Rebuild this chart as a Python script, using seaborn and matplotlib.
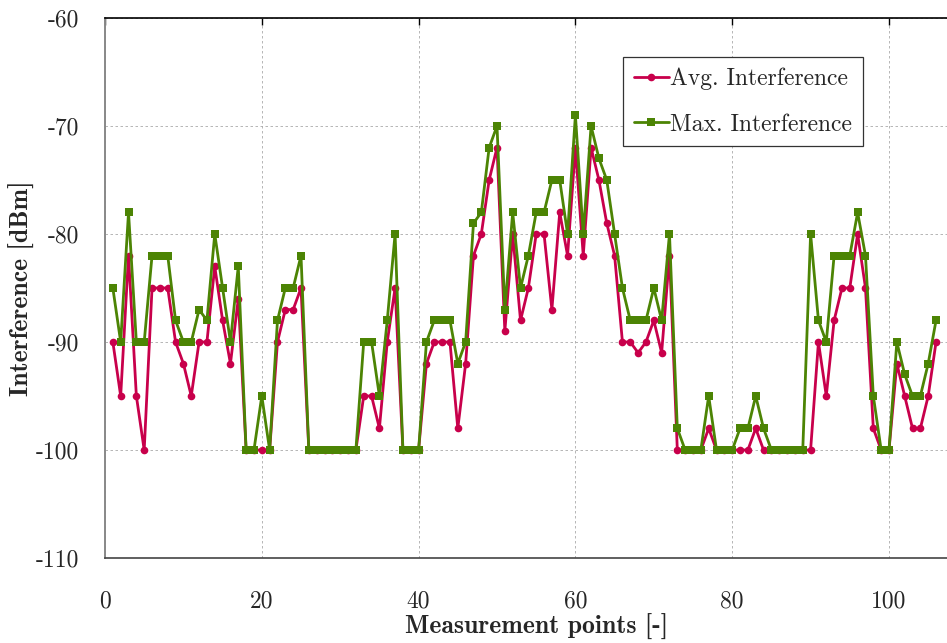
import numpy as np
import pandas as pd
import matplotlib
matplotlib.use('Agg')
import matplotlib.pyplot as plt
import seaborn as sns

# Messpunkte 1..106
punkte = list(range(1, 107))

avg_interf = [-90, -95, -82, -95, -100, -85, -85, -85, -90, -92,
              -95, -90, -90, -83, -88, -92, -86, -100, -100, -100,
              -100, -90, -87, -87, -85, -100, -100, -100, -100, -100,
              -100, -100, -95, -95, -98, -90, -85, -100, -100, -100,
              -92, -90, -90, -90, -98, -92, -82, -80, -75, -72,
              -89, -80, -88, -85, -80, -80, -87, -78, -82, -72,
              -82, -72, -75, -79, -82, -90, -90, -91, -90, -88,
              -91, -82, -100, -100, -100, -100, -98, -100, -100, -100,
              -100, -100, -98, -100, -100, -100, -100, -100, -100, -100,
              -90, -95, -88, -85, -85, -80, -85, -98, -100, -100,
              -92, -95, -98, -98, -95, -90]

max_interf = [-85, -90, -78, -90, -90, -82, -82, -82, -88, -90,
              -90, -87, -88, -80, -85, -90, -83, -100, -100, -95,
              -100, -88, -85, -85, -82, -100, -100, -100, -100, -100,
              -100, -100, -90, -90, -95, -88, -80, -100, -100, -100,
              -90, -88, -88, -88, -92, -90, -79, -78, -72, -70,
              -87, -78, -85, -82, -78, -78, -75, -75, -80, -69,
              -80, -70, -73, -75, -80, -85, -88, -88, -88, -85,
              -88, -80, -98, -100, -100, -100, -95, -100, -100, -100,
              -98, -98, -95, -98, -100, -100, -100, -100, -100, -80,
              -88, -90, -82, -82, -82, -78, -82, -95, -100, -100,
              -90, -93, -95, -95, -92, -88]

serien = ['Avg. Interference', 'Max. Interference']
xticks = [0, 20, 40, 60, 80, 100]
yticks = [-110, -100, -90, -80, -70, -60]

df = pd.DataFrame({
    'x': punkte * 2,
    'y': avg_interf + max_interf,
    'serie': [serien[0]] * len(punkte) + [serien[1]] * len(punkte),
})

sns.set_style('white')
plt.rcParams['font.family'] = ['cmr10', 'DejaVu Serif']
plt.rcParams['axes.unicode_minus'] = False
plt.rcParams['axes.formatter.use_mathtext'] = False

fig = plt.figure(figsize=(9.47, 6.43), dpi=100)
ax = fig.add_axes([105 / 947, 85 / 643, 862.4 / 947, 540 / 643])

farben = {serien[0]: '#c8004b', serien[1]: '#4c8404'}
sns.lineplot(data=df, x='x', y='y', hue='serie', style='serie',
             hue_order=serien, style_order=serien, palette=farben,
             markers={serien[0]: 'o', serien[1]: 's'}, dashes=False,
             linewidth=2, markersize=5.5, markeredgewidth=0, ax=ax)

ax.set_xlim(0, 110)
ax.set_ylim(-110, -60)
ax.set_xticks(xticks)
ax.set_yticks(yticks)
ax.set_xticklabels([str(v) for v in xticks])
ax.set_yticklabels([str(v) for v in yticks])

ax.grid(True, color='#aaaaaa', linestyle=(0, (3, 3)), linewidth=0.6)
ax.tick_params(axis='both', which='both', labelsize=17, length=0)
ax.tick_params(axis='y', pad=18.5)
ax.tick_params(axis='x', pad=23)
ax.tick_params(axis='x', top=True, direction='in', length=5, width=1, color='black')
ax.tick_params(axis='x', bottom=False)

ax.spines['left'].set_color('#888888')
ax.spines['left'].set_linewidth(1.4)
ax.spines['bottom'].set_color('#444444')
ax.spines['bottom'].set_linewidth(1.2)
ax.spines['top'].set_color('black')
ax.spines['top'].set_linewidth(1.2)
ax.spines['right'].set_visible(False)

ax.set_xlabel('Measurement points [-]', fontsize=18.5, family='cmb10', labelpad=1)
ax.set_ylabel('Interference [dBm]', fontsize=18.5, family='cmb10', labelpad=1)

handles, labels = ax.get_legend_handles_labels()
leg = ax.legend(handles, labels, loc='upper left', bbox_to_anchor=(0.6006, 0.928),
                fontsize=17, frameon=True, fancybox=False, framealpha=1,
                edgecolor='#333333', handlelength=1.5, handletextpad=0.05,
                labelspacing=1.0, borderpad=0.45, borderaxespad=0)
leg.get_frame().set_linewidth(0.9)

plt.savefig('out.png', dpi=100)
plt.close()
